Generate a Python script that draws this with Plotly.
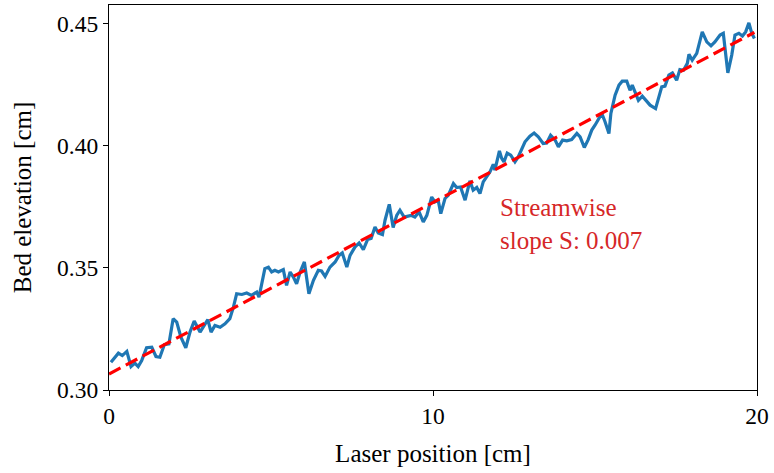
import numpy as np
import plotly.graph_objects as go

# Laser position [cm]
laser_x = [0.06, 0.29, 0.41, 0.55, 0.68, 0.80, 0.90, 1.01, 1.16, 1.32, 1.45, 1.57, 1.71, 1.85, 1.98,
           2.09, 2.22, 2.37, 2.50, 2.63, 2.81, 2.91, 3.05, 3.15, 3.27, 3.43, 3.58, 3.73, 3.84, 3.94,
           4.10, 4.25, 4.40, 4.56, 4.63, 4.81, 4.92, 5.02, 5.12, 5.23, 5.38, 5.48, 5.59, 5.69, 5.79,
           5.90, 6.03, 6.17, 6.31, 6.46, 6.56, 6.67, 6.82, 6.98, 7.10, 7.20, 7.34, 7.44, 7.59, 7.72,
           7.85, 7.98, 8.09, 8.21, 8.31, 8.44, 8.52, 8.65, 8.77, 8.88, 8.98, 9.11, 9.19, 9.32, 9.44,
           9.57, 9.70, 9.81, 9.96, 10.06, 10.16, 10.24, 10.37, 10.47, 10.63, 10.73, 10.85, 10.99,
           11.14, 11.24, 11.35, 11.45, 11.55, 11.68, 11.76, 11.86, 11.91, 12.05, 12.12, 12.19, 12.29,
           12.40, 12.53, 12.63, 12.84, 12.99, 13.12, 13.25, 13.40, 13.51, 13.63, 13.77, 13.87, 14.00,
           14.13, 14.28, 14.44, 14.54, 14.67, 14.79, 14.90, 15.00, 15.12, 15.21, 15.31, 15.43, 15.49,
           15.62, 15.74, 15.84, 15.98, 16.08, 16.15, 16.26, 16.34, 16.46, 16.56, 16.70, 16.87, 16.98,
           17.06, 17.16, 17.28, 17.39, 17.52, 17.62, 17.73, 17.85, 17.90, 18.00, 18.14, 18.31, 18.45,
           18.58, 18.70, 18.86, 18.96, 19.10, 19.22, 19.32, 19.44, 19.55, 19.65, 19.75, 19.84, 19.92]

# Bed elevation [cm]
bed_z = [0.3114, 0.3151, 0.3141, 0.3158, 0.3096, 0.3110, 0.3096, 0.3121, 0.3173, 0.3175, 0.3137,
         0.3134, 0.3186, 0.3189, 0.3292, 0.3278, 0.3216, 0.3173, 0.3237, 0.3282, 0.3237, 0.3257,
         0.3288, 0.3237, 0.3264, 0.3257, 0.3271, 0.3292, 0.3339, 0.3394, 0.3391, 0.3397, 0.3387,
         0.3401, 0.3380, 0.3497, 0.3503, 0.3483, 0.3490, 0.3483, 0.3493, 0.3428, 0.3483, 0.3462,
         0.3435, 0.3483, 0.3524, 0.3394, 0.3449, 0.3490, 0.3487, 0.3465, 0.3503, 0.3524, 0.3551,
         0.3561, 0.3503, 0.3551, 0.3585, 0.3602, 0.3575, 0.3616, 0.3620, 0.3667, 0.3643, 0.3636,
         0.3695, 0.3760, 0.3665, 0.3715, 0.3736, 0.3708, 0.3711, 0.3715, 0.3708, 0.3729, 0.3688,
         0.3715, 0.3790, 0.3770, 0.3777, 0.3722, 0.3784, 0.3797, 0.3845, 0.3829, 0.3831, 0.3777,
         0.3856, 0.3818, 0.3829, 0.3804, 0.3852, 0.3879, 0.3893, 0.3924, 0.3900, 0.3979, 0.3948,
         0.3934, 0.3970, 0.3961, 0.3934, 0.3954, 0.4016, 0.4039, 0.4052, 0.4036, 0.4009, 0.4011,
         0.4043, 0.4023, 0.3995, 0.4023, 0.4020, 0.4025, 0.4050, 0.4036, 0.3993, 0.4025, 0.4064,
         0.4084, 0.4111, 0.4132, 0.4098, 0.4050, 0.4132, 0.4207, 0.4248, 0.4264, 0.4264, 0.4227,
         0.4248, 0.4214, 0.4186, 0.4203, 0.4186, 0.4166, 0.4152, 0.4200, 0.4241, 0.4244, 0.4289,
         0.4298, 0.4268, 0.4312, 0.4309, 0.4337, 0.4374, 0.4350, 0.4378, 0.4466, 0.4425, 0.4409,
         0.4425, 0.4453, 0.4460, 0.4298, 0.4371, 0.4453, 0.4460, 0.4449, 0.4466, 0.4503, 0.4460,
         0.4439]

x_ticks = [0, 10, 20]
y_ticks = [0.30, 0.35, 0.40, 0.45]
annot_text = "Streamwise<br>slope S: 0.007"

slope, intercept = np.polyfit(laser_x, bed_z, 1)
fit_x = [0.0, laser_x[-1]]
fit_y = [intercept + slope * v for v in fit_x]

font_family = "Liberation Serif"

fig = go.Figure()
fig.add_trace(go.Scatter(x=laser_x, y=bed_z, mode="lines",
                         line=dict(color="#1f77b4", width=3.2), showlegend=False))
fig.add_trace(go.Scatter(x=fit_x, y=fit_y, mode="lines",
                         line=dict(color="#ff0000", width=3.2, dash="13px,6px"), showlegend=False))

fig.add_annotation(x=12.0, y=0.368, xref="x", yref="y", text=annot_text, showarrow=False,
                   xanchor="left", yanchor="middle", align="left",
                   font=dict(family=font_family, size=25, color="#d62728"))

axis_common = dict(showline=True, mirror=True, linecolor="black", linewidth=1.3,
                   ticks="outside", ticklen=5, tickwidth=1.2, tickcolor="black",
                   showgrid=False, zeroline=False,
                   tickfont=dict(family=font_family, size=23.5, color="black"))

fig.update_xaxes(range=[0, 20], tickvals=x_ticks, ticktext=[str(v) for v in x_ticks],
                 title=dict(text="Laser position [cm]", font=dict(family=font_family, size=25, color="black"),
                            standoff=16),
                 **axis_common)
fig.update_yaxes(range=[0.30, 0.4576], tickvals=y_ticks, ticktext=["%.2f" % v for v in y_ticks],
                 title=dict(text="Bed elevation [cm]", font=dict(family=font_family, size=25, color="black"),
                            standoff=18),
                 **axis_common)

fig.update_layout(width=774, height=473, margin=dict(l=109, r=17, t=5, b=83),
                  plot_bgcolor="white", paper_bgcolor="white")

fig.write_html("out.html")
